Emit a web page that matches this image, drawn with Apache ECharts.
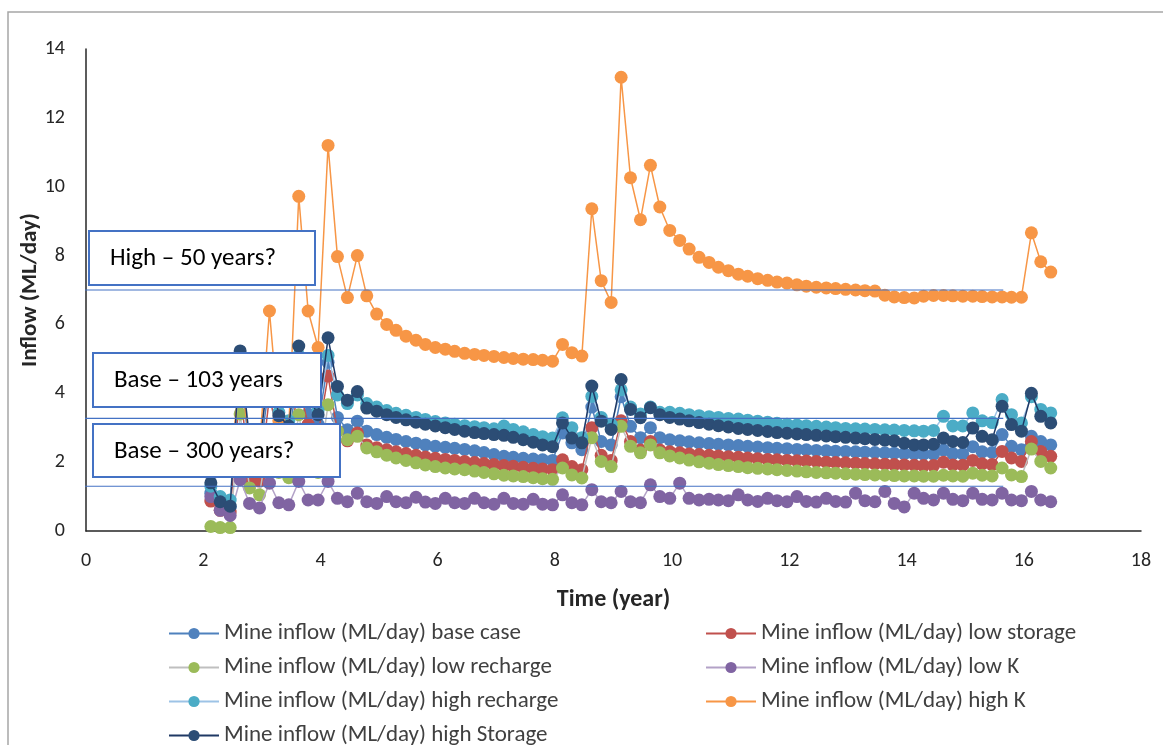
<!DOCTYPE html>
<html>
<head>
<meta charset="utf-8">
<script src="https://cdn.jsdelivr.net/npm/echarts@6/dist/echarts.min.js"></script>
<style>
  html, body { margin: 0; padding: 0; background: #fff; }
  #chart { width: 1163px; height: 745px; }
</style>
</head>
<body>
<div id="chart"></div>
<script>
// time in years, one value every two months
var time = [
  2.13, 2.29, 2.46, 2.63, 2.79, 2.96,
  3.13, 3.29, 3.46, 3.63, 3.79, 3.96,
  4.13, 4.29, 4.46, 4.63, 4.79, 4.96,
  5.13, 5.29, 5.46, 5.63, 5.79, 5.96,
  6.13, 6.29, 6.46, 6.63, 6.79, 6.96,
  7.13, 7.29, 7.46, 7.63, 7.79, 7.96,
  8.13, 8.29, 8.46, 8.63, 8.79, 8.96,
  9.13, 9.29, 9.46, 9.63, 9.79, 9.96,
  10.13, 10.29, 10.46, 10.63, 10.79, 10.96,
  11.13, 11.29, 11.46, 11.63, 11.79, 11.96,
  12.13, 12.29, 12.46, 12.63, 12.79, 12.96,
  13.13, 13.29, 13.46, 13.63, 13.79, 13.96,
  14.13, 14.29, 14.46, 14.63, 14.79, 14.96,
  15.13, 15.29, 15.46, 15.63, 15.79, 15.96,
  16.13, 16.29, 16.46
];

var baseCase = [
  1.1, 0.8, 0.7, 4.6, 2.4, 2.2,
  4.3, 3.0, 2.8, 4.6, 3.4, 3.1,
  4.9, 3.3, 2.94, 3.19, 2.9, 2.8,
  2.72, 2.66, 2.6, 2.55, 2.5, 2.46,
  2.43, 2.4, 2.37, 2.33, 2.28, 2.22,
  2.17, 2.14, 2.11, 2.09, 2.07, 2.05,
  2.85, 2.56, 2.36, 3.6, 2.6, 2.5,
  3.9, 3.04, 2.71, 3.0, 2.71, 2.65,
  2.62, 2.59, 2.56, 2.54, 2.52, 2.5,
  2.48, 2.46, 2.44, 2.42, 2.4, 2.39,
  2.37, 2.36, 2.34, 2.33, 2.32, 2.31,
  2.3, 2.29, 2.28, 2.27, 2.26, 2.25,
  2.24, 2.23, 2.23, 2.35, 2.25, 2.24,
  2.45, 2.3, 2.28, 2.8, 2.46, 2.36,
  2.75, 2.6, 2.5
];

var lowStorage = [
  0.87, 0.6, 0.55, 4.2, 1.55, 1.45,
  3.9, 2.7, 2.5, 4.2, 3.1, 2.8,
  4.5, 2.9, 2.62, 2.85, 2.5, 2.42,
  2.36, 2.3, 2.25, 2.2, 2.15, 2.11,
  2.08, 2.05, 2.02, 1.99, 1.96, 1.93,
  1.9, 1.88, 1.85, 1.82, 1.8, 1.78,
  2.07, 1.87, 1.78, 3.0, 2.2, 2.05,
  3.2, 2.6, 2.35, 2.6, 2.35, 2.3,
  2.27, 2.24, 2.22, 2.2, 2.18, 2.16,
  2.14, 2.12, 2.1, 2.08, 2.07, 2.05,
  2.04, 2.03, 2.02, 2.0, 1.99, 1.98,
  1.97, 1.96, 1.95, 1.94, 1.93, 1.92,
  1.91, 1.9, 1.9, 2.0, 1.92, 1.91,
  2.05, 1.95, 1.93, 2.31, 2.12, 2.02,
  2.6, 2.31, 2.17
];

var lowRecharge = [
  0.13, 0.1, 0.1, 3.4, 1.25, 1.05,
  2.9, 1.7, 1.55, 3.38, 1.9, 1.7,
  3.67, 2.9, 2.65, 2.75, 2.41, 2.3,
  2.2, 2.12, 2.05, 1.98, 1.92, 1.87,
  1.83, 1.8, 1.78, 1.74, 1.7, 1.66,
  1.62, 1.6, 1.58, 1.55, 1.52, 1.5,
  1.83, 1.63, 1.54, 2.71, 2.02, 1.87,
  3.04, 2.46, 2.27, 2.5, 2.27, 2.18,
  2.12, 2.06, 2.01, 1.97, 1.93, 1.9,
  1.87, 1.84, 1.82, 1.8, 1.78, 1.76,
  1.74, 1.72, 1.7, 1.69, 1.68, 1.66,
  1.65, 1.64, 1.63, 1.62, 1.61, 1.6,
  1.6, 1.59, 1.59, 1.62, 1.6, 1.59,
  1.68, 1.62, 1.6, 1.83, 1.63, 1.58,
  2.38, 2.02, 1.83
];

var lowK = [
  1.0, 0.6, 0.45, 1.49, 0.8, 0.67,
  1.39, 0.82, 0.76, 1.44, 0.9, 0.9,
  1.44, 0.95, 0.85, 1.1, 0.85, 0.8,
  1.0, 0.85, 0.82, 0.98, 0.84, 0.8,
  0.95, 0.82, 0.8, 0.95, 0.82, 0.78,
  0.95, 0.8, 0.78, 0.92, 0.78, 0.76,
  1.05, 0.82, 0.76, 1.2, 0.85, 0.82,
  1.15, 0.85, 0.82, 1.34, 1.0, 0.95,
  1.39, 0.95, 0.9, 0.92, 0.9, 0.88,
  1.05, 0.9, 0.86, 0.95, 0.88, 0.85,
  1.0, 0.86, 0.84, 0.95, 0.86, 0.84,
  1.1, 0.88, 0.85, 1.15, 0.8, 0.7,
  1.1, 0.95, 0.9, 1.1, 0.92, 0.88,
  1.1, 0.92, 0.9, 1.1, 0.9, 0.88,
  1.15, 0.9, 0.85
];

var highRecharge = [
  1.3, 1.0, 0.9, 5.0, 2.8, 2.6,
  4.7, 3.45, 3.2, 5.1, 3.85, 3.5,
  5.1, 3.95, 3.7, 3.95, 3.7, 3.6,
  3.5, 3.42, 3.36, 3.3, 3.24, 3.18,
  3.14, 3.1, 3.06, 3.03, 3.0, 2.97,
  3.05, 2.95, 2.88, 2.8, 2.74, 2.7,
  3.29, 3.0, 2.71, 3.91, 3.3, 3.1,
  4.1, 3.6, 3.4, 3.6, 3.45, 3.45,
  3.42, 3.38, 3.35, 3.32, 3.3, 3.27,
  3.25, 3.22, 3.19, 3.16, 3.13, 3.1,
  3.08, 3.06, 3.04, 3.02, 3.0, 2.98,
  2.97, 2.96, 2.95, 2.94, 2.93, 2.92,
  2.91, 2.9, 2.92, 3.33, 3.05, 3.05,
  3.43, 3.2, 3.15, 3.82, 3.38, 3.14,
  3.9, 3.53, 3.43
];

var highK = [
  2.2, 1.8, 1.8, 4.6, 2.6, 2.4,
  6.39, 3.2, 3.0, 9.72, 6.39, 5.33,
  11.2, 7.97, 6.78, 8.0, 6.83, 6.3,
  6.0, 5.83, 5.66, 5.54, 5.42, 5.33,
  5.28, 5.22, 5.16, 5.13, 5.1, 5.07,
  5.04, 5.01, 4.99, 4.98, 4.96, 4.93,
  5.42, 5.18, 5.08, 9.36, 7.27, 6.64,
  13.18, 10.26, 9.04, 10.62, 9.41, 8.73,
  8.44, 8.19, 7.95, 7.8, 7.66, 7.56,
  7.46, 7.4, 7.33, 7.28, 7.23, 7.2,
  7.15, 7.11, 7.08, 7.06, 7.04, 7.02,
  7.0, 6.98, 6.97, 6.85, 6.8, 6.78,
  6.77, 6.82, 6.84, 6.84, 6.83, 6.82,
  6.82, 6.81, 6.8, 6.8, 6.79, 6.79,
  8.66, 7.82, 7.52
];

var highStorage = [
  1.4, 0.85, 0.72, 5.23, 2.6, 2.4,
  4.9, 3.35, 3.05, 5.37, 3.9, 3.38,
  5.61, 4.2, 3.8, 4.05, 3.57, 3.48,
  3.38, 3.3, 3.23, 3.16, 3.1, 3.05,
  3.0, 2.95, 2.9, 2.86, 2.83, 2.8,
  2.78, 2.72, 2.65, 2.58, 2.5, 2.45,
  3.14, 2.7, 2.56, 4.21, 3.19, 2.95,
  4.4, 3.53, 3.29, 3.58, 3.38, 3.3,
  3.25, 3.2, 3.15, 3.1, 3.06, 3.02,
  2.98, 2.95, 2.92, 2.89, 2.86, 2.84,
  2.82, 2.8, 2.78, 2.76, 2.74, 2.72,
  2.7, 2.68, 2.66, 2.64, 2.62, 2.55,
  2.5, 2.5, 2.52, 2.7, 2.6, 2.57,
  2.99, 2.75, 2.65, 3.62, 3.09, 2.9,
  4.0, 3.33, 3.14
];

// hand-drawn guide lines (inflow levels) and their horizontal extent
var guideLevels = [7.0, 3.27, 1.3];
var guideFrom = -0.15;
var guideTo = 15.65;

var boxLabels = ['High \u2013 50 years?', 'Base \u2013 103 years', 'Base \u2013 300 years?'];

var seriesNames = [
  'Mine inflow (ML/day) base case',
  'Mine inflow (ML/day) low storage',
  'Mine inflow (ML/day) low recharge',
  'Mine inflow (ML/day) low K',
  'Mine inflow (ML/day) high recharge',
  'Mine inflow (ML/day) high K',
  'Mine inflow (ML/day) high Storage'
];
var seriesValues = [baseCase, lowStorage, lowRecharge, lowK, highRecharge, highK, highStorage];
var markerColors = ['#4F81BD', '#C0504D', '#9BBB59', '#8064A2', '#4BACC6', '#F79646', '#2C4D75'];
var lineColors = ['#4F81BD', '#C0504D', '#BFBFBF', '#B3A2C7', '#9DC3E6', '#F79646', '#1F3864'];

var FONT = 'Calibri, Carlito, Lato, sans-serif';

var chart = echarts.init(document.getElementById('chart'));

function pairs(xs, ys) {
  var out = [];
  for (var i = 0; i < ys.length; i++) out.push([xs[i], ys[i]]);
  return out;
}

var series = seriesNames.map(function (name, k) {
  return {
    name: name,
    type: 'line',
    data: pairs(time, seriesValues[k]),
    symbol: 'circle',
    symbolSize: 13,
    itemStyle: { color: markerColors[k], borderWidth: 0 },
    lineStyle: { color: lineColors[k], width: 1.5 },
    emphasis: { disabled: true },
    z: 2 + k
  };
});

guideLevels.forEach(function (lvl) {
  series.push({
    type: 'line',
    data: [[guideFrom, lvl], [guideTo, lvl]],
    symbol: 'none',
    clip: false,
    silent: true,
    lineStyle: { color: '#4472C4', width: 1.2 },
    z: 20
  });
});

var boxes = [
  { x: 89, y: 231, w: 226, h: 54 },
  { x: 93, y: 353, w: 228, h: 54 },
  { x: 93, y: 424, w: 247, h: 53 }
];

var graphics = [{
  type: 'rect',
  shape: { x: 8, y: 12, width: 1200, height: 800 },
  style: { fill: 'none', stroke: '#A6A6A6', lineWidth: 1.5 },
  silent: true,
  z: 0
}];
boxes.forEach(function (b, k) {
  graphics.push({
    type: 'rect',
    shape: { x: b.x, y: b.y, width: b.w, height: b.h },
    style: { fill: '#fff', stroke: '#4472C4', lineWidth: 2 },
    z: 100
  });
  graphics.push({
    type: 'text',
    x: b.x + 21,
    y: b.y + b.h / 2 + 1,
    style: {
      text: boxLabels[k],
      fill: '#000',
      font: '25px ' + FONT,
      verticalAlign: 'middle'
    },
    z: 101
  });
});

var legendText = { color: '#404040', fontSize: 23, fontFamily: FONT, lineHeight: 22 };

var option = {
  animation: false,
  backgroundColor: '#fff',
  grid: { left: 86, right: 22, top: 49, bottom: 214 },
  xAxis: {
    type: 'value',
    min: 0, max: 18, interval: 2,
    name: 'Time (year)',
    nameLocation: 'middle',
    nameGap: 57,
    nameTextStyle: { color: '#262626', fontSize: 24, fontWeight: 'bold', fontFamily: FONT },
    axisLine: { lineStyle: { color: '#262626', width: 1.5 } },
    axisTick: { show: false },
    splitLine: { show: false },
    axisLabel: { color: '#262626', fontSize: 20, fontFamily: FONT, margin: 20 }
  },
  yAxis: {
    type: 'value',
    min: 0, max: 14, interval: 2,
    name: 'Inflow (ML/day)',
    nameLocation: 'middle',
    nameGap: 44,
    nameMoveOverlap: false,
    nameRotate: 90,
    nameTextStyle: { color: '#262626', fontSize: 23, fontWeight: 'bold', fontFamily: FONT },
    axisLine: { show: true, lineStyle: { color: '#262626', width: 1.5 } },
    axisTick: { show: false },
    splitLine: { show: false },
    axisLabel: { color: '#262626', fontSize: 20, fontFamily: FONT, margin: 21 }
  },
  legend: [{
    left: 163, top: 617, height: 200, orient: 'vertical',
    itemWidth: 50, itemHeight: 14, itemGap: 11,
    textStyle: legendText,
    data: [seriesNames[0], seriesNames[2], seriesNames[4], seriesNames[6]]
  }, {
    left: 700, top: 617, height: 200, orient: 'vertical',
    itemWidth: 50, itemHeight: 14, itemGap: 11,
    textStyle: legendText,
    data: [seriesNames[1], seriesNames[3], seriesNames[5]]
  }],
  series: series,
  graphic: graphics
};

chart.setOption(option);
</script>
</body>
</html>
